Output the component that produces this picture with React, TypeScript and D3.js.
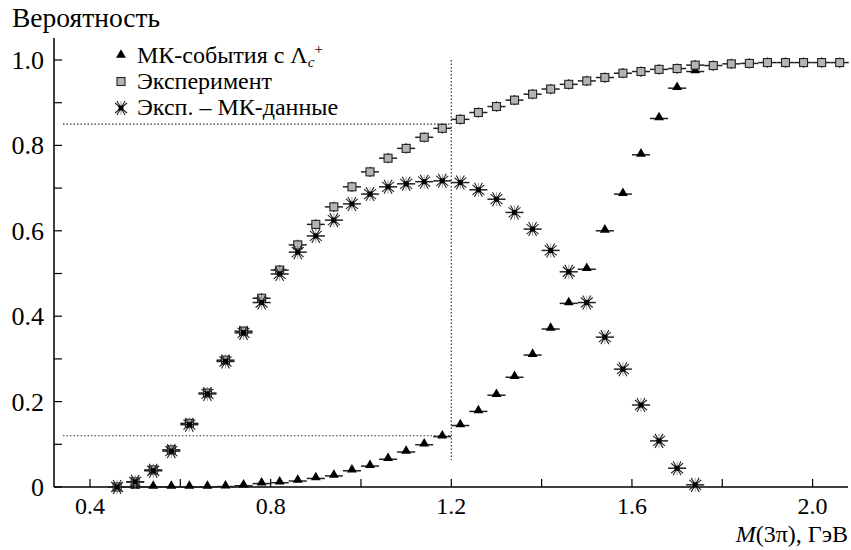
import React from "react";
import * as d3 from "d3";

// Bin centres (GeV)
const massTri = [0.50,0.54,0.58,0.62,0.66,0.70,0.74,0.78,0.82,0.86,0.90,0.94,0.98,1.02,1.06,1.10,1.14,1.18,1.22,1.26,1.30,1.34,1.38,1.42,1.46,1.50,1.54,1.58,1.62,1.66,1.70,1.74];
const mcLambda = [0.0,0.0,0.0,0.0,0.0,0.001,0.003,0.008,0.010,0.014,0.020,0.026,0.038,0.049,0.065,0.082,0.099,0.118,0.144,0.177,0.215,0.257,0.309,0.370,0.430,0.510,0.600,0.686,0.778,0.863,0.934,0.973];

const massSq = [0.46,0.50,0.54,0.58,0.62,0.66,0.70,0.74,0.78,0.82,0.86,0.90,0.94,0.98,1.02,1.06,1.10,1.14,1.18,1.22,1.26,1.30,1.34,1.38,1.42,1.46,1.50,1.54,1.58,1.62,1.66,1.70,1.74,1.78,1.82,1.86,1.90,1.94,1.98,2.02,2.06];
const experiment = [0.0,0.012,0.040,0.087,0.149,0.220,0.297,0.365,0.442,0.508,0.567,0.615,0.656,0.703,0.738,0.770,0.793,0.819,0.840,0.861,0.877,0.891,0.906,0.920,0.932,0.943,0.951,0.959,0.969,0.973,0.978,0.980,0.988,0.987,0.991,0.992,0.994,0.994,0.994,0.994,0.994];

const massSt = [0.46,0.50,0.54,0.58,0.62,0.66,0.70,0.74,0.78,0.82,0.86,0.90,0.94,0.98,1.02,1.06,1.10,1.14,1.18,1.22,1.26,1.30,1.34,1.38,1.42,1.46,1.50,1.54,1.58,1.62,1.66,1.70,1.74];
const expMinusMc = [0.0,0.012,0.038,0.084,0.146,0.218,0.294,0.361,0.432,0.499,0.550,0.588,0.625,0.663,0.686,0.703,0.710,0.715,0.717,0.713,0.696,0.674,0.643,0.604,0.554,0.504,0.432,0.351,0.276,0.192,0.108,0.044,0.005];

const binHalf = 0.02;
const sqErr = 0.012;

const xTicks = [0.4,0.6,0.8,1.0,1.2,1.4,1.6,1.8,2.0];
const xLabels = ["0.4","0.8","1.2","1.6","2.0"];
const yTicks = [0,0.1,0.2,0.3,0.4,0.5,0.6,0.7,0.8,0.9,1.0];
const yLabels = ["0","0.2","0.4","0.6","0.8","1.0"];

const cut = 1.2;
const cutLevels = [0.85, 0.12];

const W = 851, H = 550;
const FONT = "Liberation Serif";

export default function App() {
  const x = d3.scaleLinear().domain([0.4, 2.0]).range([90, 812.6]);
  const y = d3.scaleLinear().domain([0, 1]).range([487, 60]);
  const x0 = 54, x1 = 848, yTop = 38;
  const triPath = d3.symbol().type(d3.symbolTriangle).size(42)() as string;
  const ts = (fs: number) => ({ fontFamily: FONT, fontSize: fs } as React.CSSProperties);

  const star = (cx: number, cy: number, key: string) => (
    <g key={key} transform={`translate(${cx},${cy})`}>
      <line x1={-4} y1={-7} x2={4} y2={7} stroke="#222" strokeWidth={1.1} />
      <line x1={-4} y1={7} x2={4} y2={-7} stroke="#222" strokeWidth={1.1} />
      <line x1={-6} y1={-5} x2={6} y2={5} stroke="#222" strokeWidth={1.1} />
      <line x1={-6} y1={5} x2={6} y2={-5} stroke="#222" strokeWidth={1.1} />
      <line x1={0} y1={-7} x2={0} y2={7} stroke="#888" strokeWidth={0.8} />
      <rect x={-2.5} y={-2.5} width={5} height={5} fill="#000" />
    </g>
  );

  return (
    <svg width={W} height={H} style={{ position: "absolute", left: 0, top: 0, background: "#fff" }}>
      {/* axes */}
      <line x1={x0} x2={x1} y1={y(0)} y2={y(0)} stroke="#000" strokeWidth={1.5} />
      <line x1={x0} x2={x0} y1={yTop} y2={y(0)} stroke="#000" strokeWidth={1.5} />
      {xTicks.map((t) => (
        <line key={"xt" + t} x1={x(t)} x2={x(t)} y1={y(0)} y2={y(0) - 8} stroke="#000" strokeWidth={1.2} />
      ))}
      {yTicks.map((t) => (
        <line key={"yt" + t} x1={x0} x2={x0 + 8} y1={y(t)} y2={y(t)} stroke="#000" strokeWidth={1.2} />
      ))}
      {xLabels.map((l) => (
        <text key={"xl" + l} x={x(+l)} y={514} textAnchor="middle" style={ts(24)}>{l}</text>
      ))}
      {yLabels.map((l) => (
        <text key={"yl" + l} x={44} y={y(+l) + 9} textAnchor="end" style={ts(26)}>{l}</text>
      ))}
      <text x={12} y={27} style={ts(27.5)}>Вероятность</text>
      <text x={848} y={542} textAnchor="end" style={ts(24)}>
        <tspan fontStyle="italic">M</tspan>(3π), ГэВ
      </text>

      {/* cut lines */}
      <line x1={x(cut)} x2={x(cut)} y1={y(1.0)} y2={y(0.063)} stroke="#333" strokeWidth={1.2} strokeDasharray="1.5,2" />
      {cutLevels.map((v) => (
        <line key={"cl" + v} x1={x0 + 9} x2={x(cut)} y1={y(v)} y2={y(v)} stroke="#333" strokeWidth={1.2} strokeDasharray="1.5,2" />
      ))}

      {/* MC triangles */}
      {massTri.map((m, i) => (
        <g key={"tr" + i}>
          <line x1={x(m - binHalf)} x2={x(m + binHalf)} y1={y(mcLambda[i])} y2={y(mcLambda[i])} stroke="#222" strokeWidth={1.5} />
          <path d={triPath} transform={`translate(${x(m)},${y(mcLambda[i]) - 1})`} fill="#000" />
        </g>
      ))}

      {/* Experiment squares */}
      {massSq.map((m, i) => {
        const cx = x(m), cy = y(experiment[i]);
        return (
          <g key={"sq" + i}>
            <line x1={x(m - binHalf)} x2={x(m + binHalf)} y1={cy} y2={cy} stroke="#222" strokeWidth={1.5} />
            <line x1={cx} x2={cx} y1={y(experiment[i] + sqErr)} y2={y(Math.max(0, experiment[i] - sqErr))} stroke="#222" strokeWidth={1.3} />
            <rect x={cx - 4} y={cy - 4} width={8} height={8} fill="#b4b4b4" stroke="#222" strokeWidth={1.1} />
          </g>
        );
      })}

      {/* Exp - MC stars */}
      {massSt.map((m, i) => {
        const cx = x(m), cy = y(expMinusMc[i]);
        return (
          <g key={"stg" + i}>
            <line x1={x(m - binHalf)} x2={x(m + binHalf)} y1={cy} y2={cy} stroke="#222" strokeWidth={1.5} />
            {star(cx, cy, "st" + i)}
          </g>
        );
      })}

      {/* legend */}
      <path d={triPath} transform="translate(121,55)" fill="#000" />
      <text x={137} y={63} style={ts(24)}>
        МК-события с Λ<tspan fontStyle="italic" fontSize={15} dy={4}>c</tspan>
        <tspan fontSize={15} dx={0} dy={-13}>+</tspan>
      </text>
      <rect x={117} y={77.5} width={8} height={8} fill="#b4b4b4" stroke="#222" strokeWidth={1.1} />
      <text x={137} y={89} style={ts(24)}>Эксперимент</text>
      {star(121, 108, "lg")}
      <text x={137} y={115} style={ts(24)}>Эксп. – МК-данные</text>
    </svg>
  );
}
